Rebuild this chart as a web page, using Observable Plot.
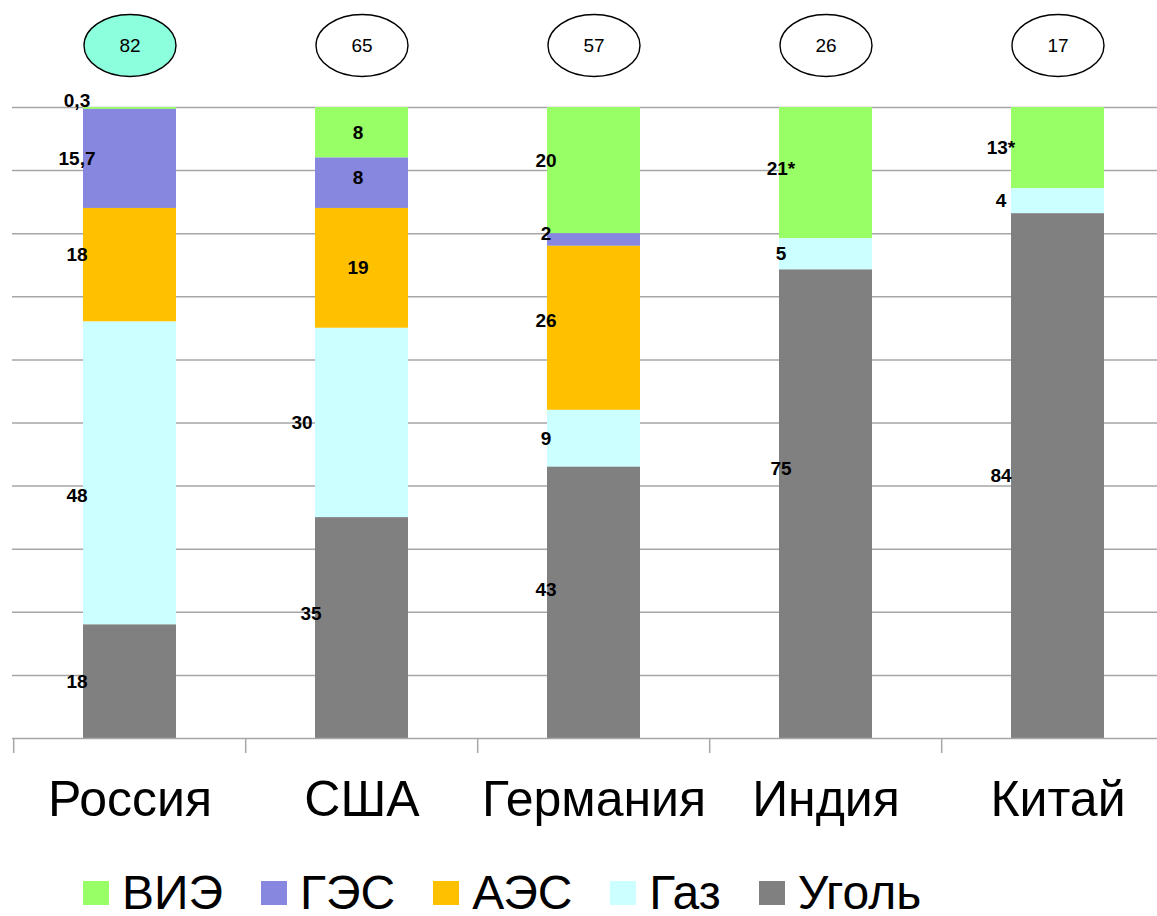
<!DOCTYPE html>
<html>
<head>
<meta charset="utf-8">
<script src="https://cdn.jsdelivr.net/npm/d3@7"></script>
<script src="https://cdn.jsdelivr.net/npm/@observablehq/plot@0.6"></script>
<style>
  html, body { margin: 0; padding: 0; background: #fff; overflow: hidden; }
  #chart svg { display: block; }
  .legend { display: flex; align-items: center; margin-top: 30px; margin-left: 83px; line-height: 0.95;
            font-family: "Liberation Sans", Arial, sans-serif; font-size: 48px; color: #000; white-space: nowrap; }
  .legend .item { display: inline-flex; align-items: center; margin-right: 38px; }
  .legend .sw { width: 26px; height: 24px; margin-right: 13px; display: inline-block; }
</style>
</head>
<body>
<div id="chart"></div>
<script>
// ---- data ----
const countries = ["Россия", "США", "Германия", "Индия", "Китай"];
const sources = ["ВИЭ", "ГЭС", "АЭС", "Газ", "Уголь"];
const shareRES = [0.3, 8, 20, 21, 13];
const shareHydro = [15.7, 8, 2, 0, 0];
const shareNuclear = [18, 19, 26, 0, 0];
const shareGas = [48, 30, 9, 5, 4];
const shareCoal = [18, 35, 43, 75, 84];
const topValues = [82, 65, 57, 26, 17];
const starredRES = ["Индия", "Китай"];

const colors = ["#99FF66", "#8787DF", "#FFC000", "#CCFFFF", "#808080"];
const stackOrder = ["Уголь", "Газ", "АЭС", "ГЭС", "ВИЭ"];
const seriesBySource = [shareRES, shareHydro, shareNuclear, shareGas, shareCoal];

const rows = sources.flatMap((s, si) =>
  countries.map((c, ci) => ({country: c, source: s, value: seriesBySource[si][ci]})));

const fmt = d => String(d.value).replace(".", ",") +
  (d.source === "ВИЭ" && starredRES.includes(d.country) ? "*" : "");

// label offsets (style only)
const labelDx = {"Россия": -53, "США": -4, "Германия": -48, "Индия": -45, "Китай": -57};
const labelDxOverride = {"США|Газ": -60, "США|Уголь": -51};
const labelDyOverride = {
  "Россия|ВИЭ": -8, "Россия|АЭС": -10, "Россия|Газ": 22,
  "США|ГЭС": -5, "США|Уголь": -14,
  "Германия|ВИЭ": -10, "Германия|ГЭС": -6, "Германия|АЭС": -7, "Германия|Уголь": -13,
  "Индия|Уголь": -35, "Индия|ВИЭ": -4
};
const keyOf = d => d.country + "|" + d.source;
const dxOf = d => labelDxOverride[keyOf(d)] ?? labelDx[d.country];
const dyOf = d => labelDyOverride[keyOf(d)] ?? 0;
const groupKey = d => dxOf(d) + "," + dyOf(d);
const groups = Array.from(new Set(rows.map(groupKey)));

const W = 1175, ML = 12, MR = 0;
const step = (W - ML - MR) / countries.length;

const ellipse = {
  draw(ctx) {
    const rx = 46, ry = 31, k = 0.5522847;
    ctx.moveTo(rx, 0);
    ctx.bezierCurveTo(rx, ry * k, rx * k, ry, 0, ry);
    ctx.bezierCurveTo(-rx * k, ry, -rx, ry * k, -rx, 0);
    ctx.bezierCurveTo(-rx, -ry * k, -rx * k, -ry, 0, -ry);
    ctx.bezierCurveTo(rx * k, -ry, rx, -ry * k, rx, 0);
    ctx.closePath();
  }
};

const stackOpts = {x: "country", y: "value", z: "source", order: stackOrder, offset: "normalize"};

const plot = Plot.plot({
  width: W, height: 840,
  marginLeft: ML, marginRight: MR, marginTop: 107, marginBottom: 102,
  style: {fontFamily: "'Liberation Sans', Arial, sans-serif", maxWidth: "none", overflow: "visible", background: "white"},
  x: {domain: countries, paddingInner: 0.6, paddingOuter: 0.3, axis: null},
  y: {domain: [0, 1], axis: null},
  color: {domain: sources, range: colors},
  marks: [
    Plot.gridY(d3.range(1, 11).map(i => i / 10), {stroke: "#a6a6a6", strokeOpacity: 1, strokeWidth: 1.5}),
    Plot.barY(rows, Plot.stackY({...stackOpts, fill: "source"})),
    Plot.ruleY([0], {stroke: "#a6a6a6", strokeWidth: 1.5}),
    Plot.axisX({tickSize: 15, tickFormat: () => "", label: null, dx: -step / 2, stroke: "#a6a6a6", strokeWidth: 1.5}),
    Plot.axisX({tickSize: 0, tickPadding: 42, fontSize: 50, label: null, fill: "black"}),
    ...groups.map(g => {
      const [gdx, gdy] = g.split(",").map(Number);
      return Plot.text(rows, Plot.filter(d => d.value > 0 && groupKey(d) === g,
        Plot.stackY({...stackOpts, text: fmt, dx: gdx, dy: gdy, fontSize: 19, fontWeight: "bold", fill: "black"})));
    }),
    Plot.dot(countries, {x: d => d, frameAnchor: "top", dy: -62, symbol: ellipse,
      fill: d => d === "Россия" ? "#8CFFDD" : "white", stroke: "black", strokeWidth: 1.4}),
    Plot.text(countries, {x: d => d, text: topValues, frameAnchor: "top", lineAnchor: "middle", dy: -62, fontSize: 19, fill: "black"})
  ]
});
document.getElementById("chart").appendChild(plot);

// legend
const legend = d3.select("body").append("div").attr("class", "legend");
const items = legend.selectAll(".item").data(sources).join("div").attr("class", "item");
items.append("span").attr("class", "sw").style("background", (d, i) => colors[i]);
items.append("span").text(d => d);
</script>
</body>
</html>
